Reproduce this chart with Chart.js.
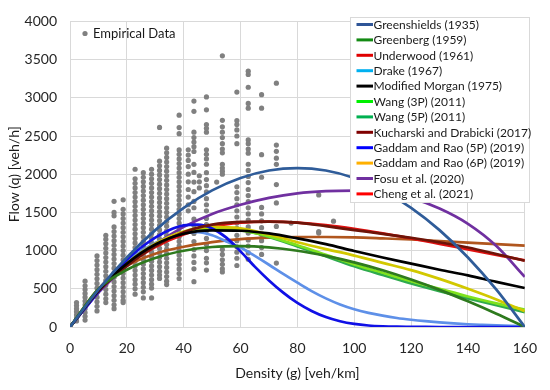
<!DOCTYPE html>
<html><head><meta charset="utf-8">
<script src="https://cdn.jsdelivr.net/npm/chart.js@4.4.1/dist/chart.umd.min.js"></script>
<style>html,body{margin:0;padding:0;background:#fff;}</style>
</head><body>
<canvas id="c" width="550" height="390"></canvas>
<script>
// ---------- data ----------
const density10 = [0,10,20,30,40,50,60,70,80,90,100,110,120,130,140,150,160];
const density5 = [0,5,10,15,20,25,30,35,40,45,50,55,60,65,70,75,80,85,90,95,100,105,110,115,120,125,130,135,140,145,150,155,160];

const greenshields = [0,488,910,1268,1560,1788,1950,2048,2080,2048,1950,1788,1560,1268,910,488,0];
const greenberg    = [0,499,749,904,998,1047,1059,1042,998,931,846,742,621,486,336,174,0];
const underwood    = [0,465,805,1047,1211,1312,1365,1380,1367,1333,1284,1225,1159,1088,1016,944,872];
const drake        = [0,250,470,670,850,990,1100,1180,1230,1240,1200,1120,1040,930,815,695,580,470,375,295,232,185,148,118,95,76,60,47,36,28,21,16,12];
const morgan       = [0,480,830,1080,1220,1265,1260,1225,1160,1085,995,910,830,750,675,590,510];
const wang3p       = [0,470,830,1080,1230,1280,1265,1185,1070,945,820,710,600,500,400,310,227];
const wang5p       = [0,475,840,1090,1240,1290,1270,1180,1055,925,795,680,570,470,375,285,195];
const kucharski    = [0,470,800,1060,1240,1340,1375,1380,1365,1320,1268,1220,1168,1108,1040,955,867];
const gaddam5p     = [0,230,460,680,880,1040,1170,1270,1330,1340,1290,1170,990,790,610,450,315,210,130,75,40,20,10,5,3,1,0,0,0,0,0,0,0];
const gaddam6p     = [0,470,830,1090,1250,1310,1290,1210,1110,1020,935,840,745,630,500,360,206];
const fosu         = [0,450,800,1080,1310,1480,1600,1690,1750,1778,1785,1765,1690,1550,1350,1060,656];
const cheng        = [0,500,800,960,1050,1110,1150,1170,1178,1178,1173,1160,1145,1125,1105,1085,1064];

const xTicks = [0,20,40,60,80,100,120,140,160];
const yTicks = [0,500,1000,1500,2000,2500,3000,3500,4000];

// empirical data: columns of flow values at a density
const scatterDensity = [2.3,5.3,9.5,12.6,15.5,18.7,22.9,25.8,28.7,31.5,34,38.4,41.6,43.6,45.5,48,51.6,53.6,58.7,62.7,67.4,72.6,77.8,87.5,92.7];
const scatterFlows = [
 [320,280,240,200,160,120,80],
 [600,540,490,440,390,340,290,240,190,140,90],
 [930,870,810,750,690,630,570,510,450,390,330,270,210],
 [1200,1150,1090,1030,970,910,850,790,730,670,610,550,490,430,370,320],
 [1645,1500,1455,1310,1250,1190,1130,1070,1010,950,890,830,770,710,650,590,530,470,410,350,290,240],
 [1665,1540,1480,1420,1360,1300,1240,1180,1120,1060,1000,940,880,820,760,700,640,580,520,460,400,350,320],
 [2065,1940,1880,1820,1760,1700,1640,1580,1520,1460,1400,1340,1280,1220,1160,1100,1040,980,920,860,800,740,680,620,560,500,430],
 [2020,1960,1900,1840,1780,1720,1660,1600,1540,1480,1420,1360,1300,1240,1180,1120,1060,1000,940,880,820,760,700,640,580,520,460,380],
 [2065,2000,1940,1880,1820,1760,1700,1640,1580,1520,1460,1400,1340,1280,1220,1160,1100,1040,980,920,860,800,740,680,620,560,510,380],
 [2612,2170,2110,2050,1990,1930,1870,1810,1750,1690,1630,1570,1510,1450,1390,1330,1270,1210,1150,1090,1030,970,910,850,790,730,680,635],
 [2340,2280,2220,2160,2100,2040,1980,1920,1860,1800,1740,1680,1620,1560,1500,1440,1380,1320,1260,1200,1140,1080,1020,960,900,840,780,720,660,600,555],
 [2772,2610,2530,2318,2260,2200,2140,2080,2020,1960,1900,1840,1780,1720,1660,1600,1540,1480,1420,1360,1300,1240,1180,1120,1060,1000,940,880,820,760,700,635],
 [2320,2250,2180,2100,2000,1900,1800,1700,1600,1520],
 [2957,2823,2550,2480,2420,2360,2297,2129,2023,1897,1771,1644,1561,1413,1329,1224,1119,1013,930,845,761,593],
 [1980,1900,1820],
 [3012,2843,2650,2600,2550,2320,2260,2200,2130,2020,1930,1850,1770,1680,1600,1520,1420,1340,1260,1160,1080,1000,900,840,745],
 [1897],
 [3550,2705,2620,2550,2480,2400,2330,2280,2130,2080,2040,2000,1013,950,880,820,760,720],
 [3075,2700,2650,2580,2500,2400,1835,1760,1680,1600,1520,1440,1360,1290,1200,1130,1050,980,900,805],
 [3348,3305,3138,2927,2864,2448,2400,2330,2275,2130,2050,1970,1890,1800,1720,1640,1560,1480,1400,1310,1230,1140,1060,970,887],
 [3041,2864,2255,1960,1565,1480,1390,1300,1210,1130,1040,950],
 [3192,2381,2300,2210,2129,1864,1624,1316,837],
 [1360],
 [1729,1250,1230],
 [1385]
];

const seriesNames = ["Greenshields (1935)","Greenberg (1959)","Underwood (1961)","Drake (1967)","Modified Morgan (1975)","Wang (3P) (2011)","Wang (5P) (2011)","Kucharski and Drabicki (2017)","Gaddam and Rao (5P) (2019)","Gaddam and Rao (6P) (2019)","Fosu et al. (2020)","Cheng et al. (2021)"];
const seriesValues = [greenshields,greenberg,underwood,drake,morgan,wang3p,wang5p,kucharski,gaddam5p,gaddam6p,fosu,cheng];
const seriesX = [density10,density10,density10,density5,density10,density10,density10,density10,density5,density10,density10,density10];

// ---------- styles ----------
const lineColors   = ["#2F5C99","#2E7A1E","#E01010","#5E90E8","#000000","#7FE21E","#2EAA4E","#6E1408","#1010E6","#D2C800","#7030A0","#B0561E"];
const legendColors = ["#2F5597","#138A13","#E00000","#00B0F0","#000000","#00F000","#00B050","#7F0000","#0000FF","#FFB000","#7030A0","#FF0000"];
const drawOrder    = [1,1,3,2,1,2,2,1,1,1,1,3];
const FONT = "Lato";

const datasets = [];
seriesNames.forEach((name,i)=>{
  datasets.push({
    label: name,
    data: seriesX[i].map((x,j)=>({x:x,y:seriesValues[i][j]})),
    showLine: true,
    borderColor: lineColors[i],
    backgroundColor: lineColors[i],
    legendColor: legendColors[i],
    borderWidth: 2.7,
    pointRadius: 0,
    cubicInterpolationMode: 'monotone',
    fill: false,
    order: drawOrder[i]
  });
});
const scatterPts = [];
scatterDensity.forEach((d,i)=>scatterFlows[i].forEach(v=>scatterPts.push({x:d,y:v})));
datasets.push({
  label: "Empirical Data",
  data: scatterPts,
  showLine: false,
  pointRadius: 2.6,
  pointBorderWidth: 0,
  pointBackgroundColor: "#808080",
  backgroundColor: "#808080",
  borderColor: "#808080",
  order: 10
});

const legendPlugin = {
  id: 'customLegend',
  afterDraw(chart){
    const ctx = chart.ctx;
    ctx.save();
    ctx.fillStyle = "#808080";
    ctx.beginPath(); ctx.arc(85,33.5,2.6,0,Math.PI*2); ctx.fill();
    ctx.fillStyle = "#1a1a1a";
    ctx.font = "13px " + FONT;
    ctx.textBaseline = "middle";
    ctx.fillText("Empirical Data", 93, 34);
    const bx=350, by=17, bw=179, bh=185;
    ctx.fillStyle = "#ffffff";
    ctx.fillRect(bx,by,bw,bh);
    ctx.strokeStyle = "#D9D9D9"; ctx.lineWidth = 1;
    ctx.strokeRect(bx+0.5,by+0.5,bw,bh);
    ctx.font = "12px " + FONT;
    const curveSets = chart.data.datasets.filter(d=>d.showLine);
    curveSets.forEach((ds,i)=>{
      const y = 24.5 + i*15.4;
      ctx.strokeStyle = ds.legendColor; ctx.lineWidth = 3;
      ctx.beginPath(); ctx.moveTo(356.5,y); ctx.lineTo(373,y); ctx.stroke();
      ctx.fillStyle = "#1a1a1a";
      ctx.fillText(ds.label, 373.5, y+0.5);
    });
    ctx.restore();
  }
};

new Chart(document.getElementById('c'), {
  type: 'scatter',
  data: { datasets },
  options: {
    responsive: false,
    animation: false,
    events: [],
    layout: { padding: { top: 10, right: 15, left: 0, bottom: 0 } },
    plugins: { legend: { display: false }, tooltip: { enabled: false } },
    scales: {
      x: {
        type: 'linear', min: 0, max: 160,
        afterBuildTicks: s => { s.ticks = xTicks.map(v=>({value:v})); },
        afterFit: s => { s.height = 63; },
        grid: { color: "#D9D9D9", drawTicks: false, tickLength: 0 },
        border: { color: "#D9D9D9" },
        ticks: { font: { family: FONT, size: 14 }, color: "#262626", padding: 13, maxRotation: 0, callback: v => String(v) },
        title: { display: true, text: "Density (g) [veh/km]", font: { family: FONT, size: 14 }, color: "#1a1a1a", padding: { top: 0, bottom: 8 } }
      },
      y: {
        type: 'linear', min: 0, max: 4000,
        afterBuildTicks: s => { s.ticks = yTicks.map(v=>({value:v})); },
        afterFit: s => { s.width = 70; },
        grid: { color: "#D9D9D9", drawTicks: false, tickLength: 0 },
        border: { color: "#D9D9D9" },
        ticks: { font: { family: FONT, size: 14 }, color: "#262626", padding: 13, callback: v => String(v) },
        title: { display: true, text: "Flow (q) [veh/h]", font: { family: FONT, size: 14 }, color: "#1a1a1a", padding: { top: 6, bottom: 0 } }
      }
    }
  },
  plugins: [legendPlugin]
});
</script>
</body></html>
